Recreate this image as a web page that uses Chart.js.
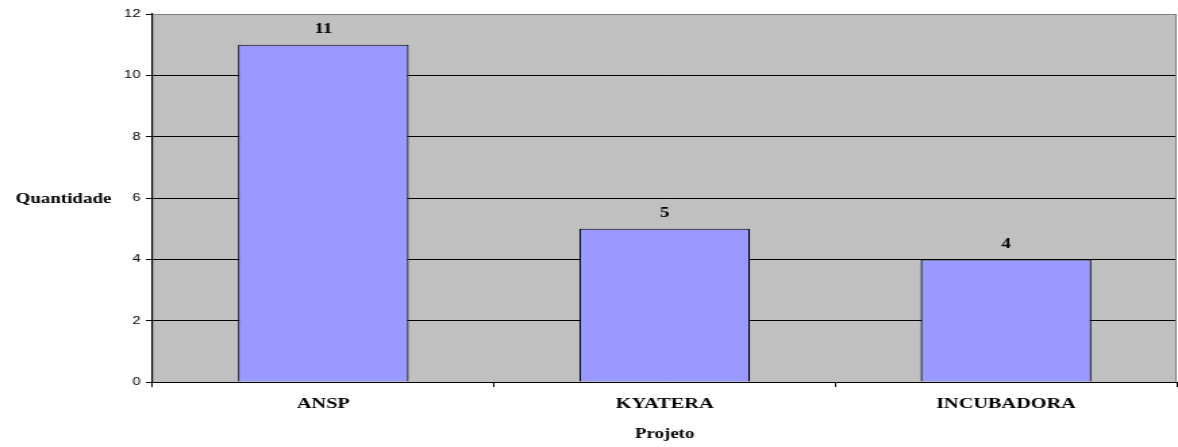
<!DOCTYPE html>
<html>
<head>
<meta charset="utf-8">
<script src="https://cdn.jsdelivr.net/npm/chart.js@4/dist/chart.umd.min.js"></script>
<style>
  html, body { margin: 0; padding: 0; background: #fff; }
  /* the reference is stretched horizontally, so the canvas is too */
  #chart { width: 1178px; height: 447px; }
</style>
</head>
<body>
<canvas id="chart" width="872" height="447" style="width:1178px;height:447px"></canvas>
<script>
const projetos = ["ANSP", "KYATERA", "INCUBADORA"];
const quantidades = [11, 5, 4];
const yTicks = [0, 2, 4, 6, 8, 10, 12];

const serif = "'Liberation Serif', 'Times New Roman', serif";
const sans = "'Liberation Sans', Arial, sans-serif";

// gray plot background + gray top/right frame
const plotFrame = {
  id: "plotFrame",
  beforeDraw(chart) {
    const { ctx, chartArea: a } = chart;
    ctx.save();
    ctx.fillStyle = "#C0C0C0";
    ctx.fillRect(a.left, a.top, a.right - a.left, a.bottom - a.top);
    ctx.restore();
  },
  afterDraw(chart) {
    const { ctx, chartArea: a } = chart;
    ctx.save();
    ctx.strokeStyle = "#808080";
    ctx.lineWidth = 1;
    ctx.beginPath();
    ctx.moveTo(a.left, a.top + 0.5);
    ctx.lineTo(a.right - 0.5, a.top + 0.5);
    ctx.lineTo(a.right - 0.5, a.bottom);
    ctx.stroke();

    // horizontal y axis title
    ctx.fillStyle = "#000";
    ctx.font = "bold 14px " + serif;
    ctx.textAlign = "center";
    ctx.textBaseline = "middle";
    ctx.fillText("Quantidade", 47, 199);
    ctx.restore();
  }
};

// value on top of each bar
const barValues = {
  id: "barValues",
  afterDatasetsDraw(chart) {
    const { ctx } = chart;
    const meta = chart.getDatasetMeta(0);
    ctx.save();
    ctx.fillStyle = "#000";
    ctx.font = "bold 14px " + serif;
    ctx.textAlign = "center";
    ctx.textBaseline = "middle";
    meta.data.forEach((bar, i) => {
      ctx.fillText(String(quantidades[i]), bar.x, bar.y - 15);
    });
    ctx.restore();
  }
};

new Chart(document.getElementById("chart"), {
  type: "bar",
  data: {
    labels: projetos,
    datasets: [{
      label: "Quantidade",
      data: quantidades,
      backgroundColor: "#9999FF",
      borderColor: "#000",
      borderWidth: 1.2,
      borderSkipped: "bottom",
      barPercentage: 0.5,
      categoryPercentage: 1
    }]
  },
  options: {
    responsive: false,
    devicePixelRatio: 1,
    animation: false,
    layout: { padding: { top: 14, right: 1, left: 0, bottom: 0 } },
    plugins: {
      legend: { display: false },
      tooltip: { enabled: false }
    },
    scales: {
      x: {
        afterFit(scale) { scale.height = 65; },
        grid: {
          offset: true,
          drawOnChartArea: false,
          color: "#000",
          tickLength: 5
        },
        border: { color: "#000", width: 1 },
        ticks: {
          color: "#000",
          padding: 8,
          font: { family: serif, size: 15, weight: "bold" }
        },
        title: {
          display: true,
          text: "Projeto",
          color: "#000",
          padding: { top: 0, bottom: 4 },
          font: { family: serif, size: 14, weight: "bold" }
        }
      },
      y: {
        min: 0,
        max: 12,
        afterFit(scale) { scale.width = 113; },
        afterBuildTicks(scale) {
          scale.ticks = yTicks.map(v => ({ value: v }));
        },
        grid: {
          color: ctx => (ctx.tick && ctx.tick.value === 12 ? "#808080" : "#000"),
          tickColor: "#000",
          tickLength: 5,
          lineWidth: 1
        },
        border: { color: "#000", width: 1.2 },
        ticks: {
          color: "#000",
          padding: 4,
          font: { family: sans, size: 11 }
        }
      }
    }
  },
  plugins: [plotFrame, barValues]
});
</script>
</body>
</html>
